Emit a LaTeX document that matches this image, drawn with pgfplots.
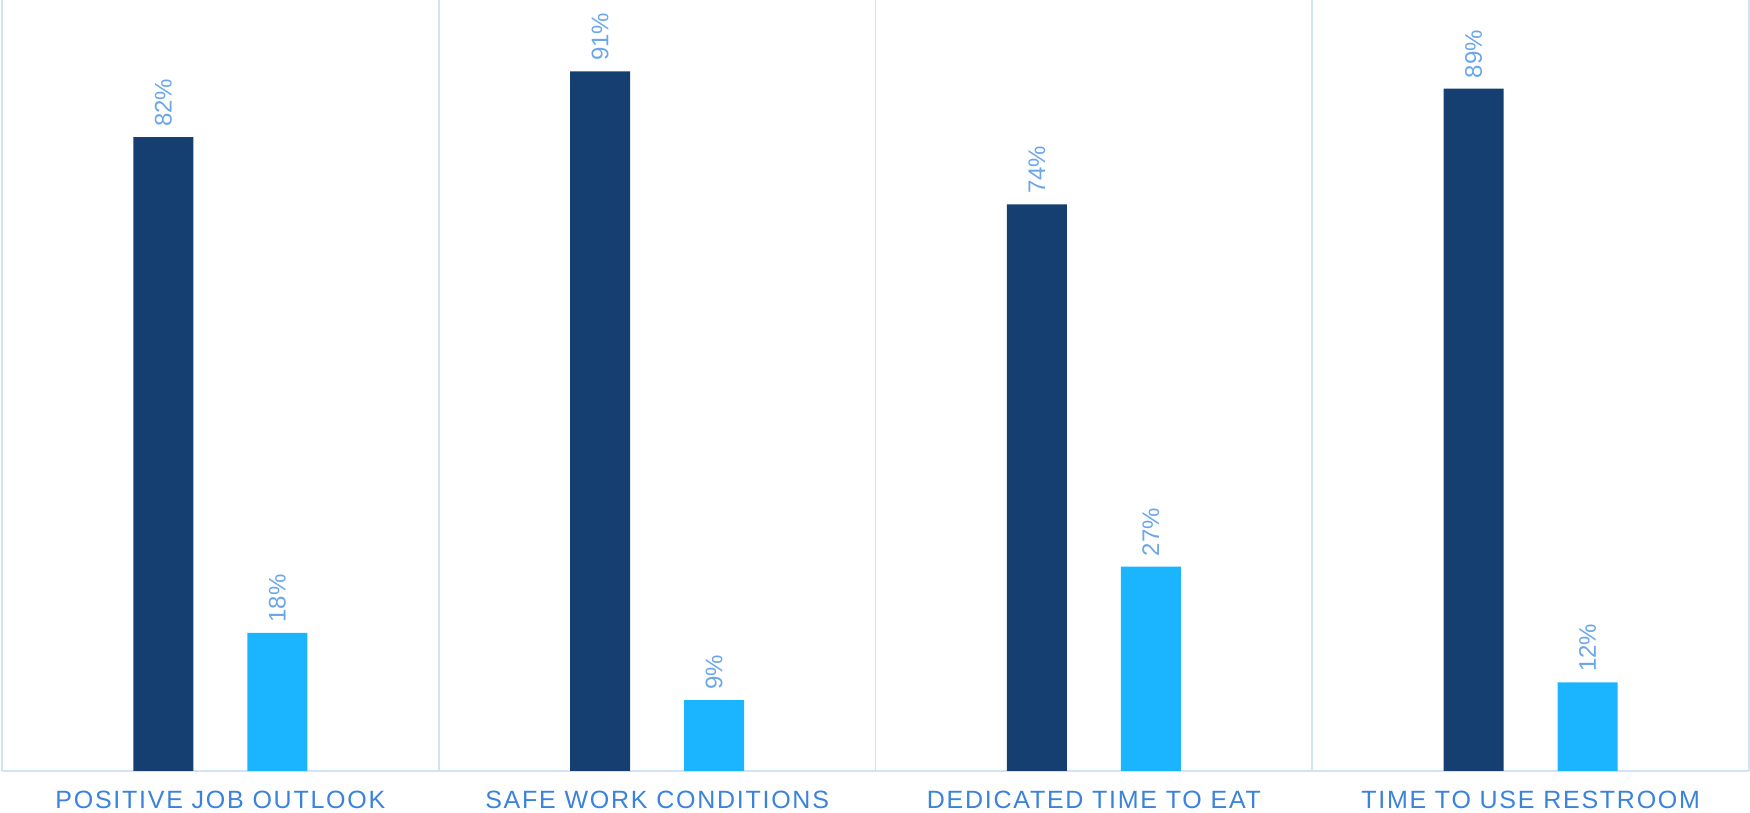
\documentclass[border=0pt]{standalone}
\usepackage{pgfplots}
\pgfplotsset{compat=1.18}
\usepackage{fontspec}
\setmainfont{Liberation Sans}
\newfontfamily\catfont[LetterSpace=7]{Liberation Sans}
\definecolor{darkbar}{HTML}{153F70}
\definecolor{lightbar}{HTML}{1BB4FF}
\definecolor{sepcol}{HTML}{D3E3F6}
\definecolor{catcol}{HTML}{3A82DC}
\definecolor{valcol}{HTML}{6AA6EA}
\begin{document}
\begin{tikzpicture}
\begin{axis}[
  scale only axis,
  width=873.5pt, height=385.5pt,
  xmin=-0.5, xmax=3.5, ymin=0, ymax=100,
  axis x line*=bottom, axis y line*=box,
  axis line style={sepcol, line width=0.8pt},
  ytick=\empty,
  xtick={0,1,2,3},
  xticklabels={POSITIVE JOB OUTLOOK, SAFE WORK CONDITIONS, DEDICATED TIME TO EAT, TIME TO USE RESTROOM},
  major tick length=0pt,
  xticklabel style={font=\catfont\fontsize{12.5}{14}\selectfont, text=catcol, inner sep=0pt, anchor=north, yshift=-10pt},
  extra x ticks={0.5,1.5,2.5},
  extra x tick labels={},
  extra x tick style={grid=major, major grid style={sepcol, line width=0.8pt}},
  ybar, bar width=30pt,
  point meta=explicit symbolic,
  nodes near coords={\pgfplotspointmeta\%},
  every node near coord/.append style={rotate=90, anchor=west, inner xsep=5pt, inner ysep=0pt, text=valcol, font=\fontsize{12}{14}\selectfont},
  clip=false,
]
\addplot[fill=darkbar, draw=none, bar shift=-28.5pt] coordinates {(0,82.2) [82] (1,90.75) [91] (2,73.5) [74] (3,88.5) [89]};
\addplot[fill=lightbar, draw=none, bar shift=28.5pt] coordinates {(0,17.9) [18] (1,9.2) [9] (2,26.5) [27] (3,11.5) [12]};
\coordinate (bl) at (rel axis cs:0,0);
\coordinate (tr) at (rel axis cs:1,1);
\end{axis}
\pgfresetboundingbox
\path ([shift={(-1pt,-21pt)}]bl) rectangle ([shift={(0.5pt,0pt)}]tr);
\end{tikzpicture}
\end{document}
